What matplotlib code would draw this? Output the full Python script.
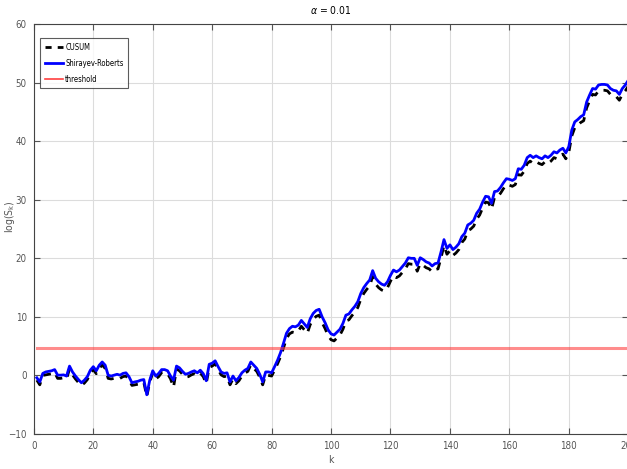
import numpy as np
import matplotlib
matplotlib.use('Agg')
import matplotlib.pyplot as plt

# log statistics, k = 1..200
sr_vals = [
    -0.4, -1.1, 0.35, 0.6, 0.7, 0.8, 1.0, 0.05, 0.05, 0.1,
    -0.1, 1.6, 0.6, -0.1, -0.7, -1.25, -0.8, -0.2, 0.9, 1.5,
    0.8, 1.75, 2.3, 1.75, 0.05, -0.1, 0.05, 0.2, 0.05, 0.35,
    0.45, -0.2, -1.25, -1.1, -1.0, -0.8, -0.7, -3.3, -0.8, 0.8,
    -0.1, 0.35, 1.0, 1.0, 0.8, -0.1, -0.8, 1.6, 1.3, 0.7,
    0.2, 0.35, 0.6, 0.8, 0.45, 0.9, 0.3, -0.9, 1.9, 2.1,
    2.5, 1.5, 0.6, 0.35, 0.45, -1.1, -0.1, -0.9, -0.35, 0.45,
    0.9, 1.2, 2.3, 1.75, 1.2, 0.2, -1.1, 0.6, 0.6, 0.45,
    1.5, 2.6, 3.9, 5.5, 7.2, 8.0, 8.4, 8.3, 8.6, 9.4,
    8.8, 8.2, 9.7, 10.6, 11.1, 11.3, 10.0, 9.0, 7.8, 7.1,
    6.9, 7.4, 7.9, 8.9, 10.3, 10.5, 11.2, 11.8, 12.6, 14.0,
    15.0, 15.7, 16.3, 17.9, 16.6, 16.0, 15.6, 15.4, 16.0, 17.1,
    18.0, 17.7, 18.0, 18.6, 19.2, 20.1, 20.0, 20.0, 18.8, 20.1,
    19.8, 19.4, 19.2, 18.7, 19.1, 19.2, 21.1, 23.2, 21.7, 22.3,
    21.5, 21.9, 22.5, 23.7, 24.3, 25.7, 26.0, 26.5, 27.7, 28.4,
    29.6, 30.6, 30.5, 29.4, 31.4, 31.5, 32.1, 32.9, 33.6, 33.5,
    33.3, 33.6, 35.3, 35.2, 35.9, 37.2, 37.6, 37.2, 37.5, 37.2,
    37.0, 37.5, 37.2, 37.6, 38.2, 38.0, 38.5, 38.8, 38.0, 39.1,
    41.9, 43.3, 43.7, 44.2, 44.5, 46.7, 47.9, 49.0, 48.9, 49.6,
    49.7, 49.7, 49.6, 49.0, 48.7, 48.6, 48.0, 49.0, 49.6, 50.4,
]

cusum_vals = [
    -0.8, -1.6, 0.0, 0.1, 0.2, 0.3, 0.5, -0.5, -0.5, -0.4,
    -0.6, 1.1, 0.1, -0.6, -1.2, -1.7, -1.3, -0.7, 0.4, 1.0,
    0.3, 1.2, 1.8, 1.2, -0.5, -0.6, -0.5, -0.3, -0.5, -0.2,
    -0.1, -0.7, -1.7, -1.6, -1.5, -1.3, -1.2, -3.6, -1.1, 0.4,
    -0.6, -0.2, 0.5, 0.5, 0.3, -0.6, -2.0, 1.1, 0.8, 0.2,
    -0.3, -0.2, 0.1, 0.3, -0.1, 0.4, -0.2, -1.4, 1.4, 1.6,
    2.0, 1.0, 0.1, -0.2, -0.1, -1.6, -0.6, -1.4, -0.9, -0.1,
    0.4, 0.7, 1.8, 1.2, 0.7, -0.3, -1.6, 0.1, 0.0, -0.1,
    0.9, 2.0, 3.2, 4.7, 6.3, 7.1, 7.4, 7.3, 7.6, 8.4,
    7.8, 7.2, 8.7, 9.6, 10.1, 10.3, 9.0, 8.0, 6.8, 6.1,
    5.9, 6.4, 6.9, 7.9, 9.3, 9.5, 10.2, 10.8, 11.6, 13.0,
    14.0, 14.7, 15.3, 16.9, 15.6, 15.0, 14.6, 14.4, 15.0, 16.1,
    17.0, 16.7, 17.0, 17.6, 18.2, 19.1, 19.0, 19.0, 17.8, 19.1,
    18.8, 18.4, 18.2, 17.7, 18.1, 18.2, 20.1, 22.2, 20.7, 21.3,
    20.5, 20.9, 21.5, 22.7, 23.3, 24.7, 25.0, 25.5, 26.7, 27.4,
    28.6, 29.6, 29.5, 28.4, 30.4, 30.5, 31.1, 31.9, 32.6, 32.5,
    32.3, 32.6, 34.3, 34.2, 34.9, 36.2, 36.6, 36.2, 36.5, 36.2,
    36.0, 36.5, 36.2, 36.6, 37.2, 37.0, 37.5, 37.8, 37.0, 38.1,
    40.9, 42.3, 42.7, 43.2, 43.5, 45.7, 46.9, 48.0, 47.9, 48.6,
    48.7, 48.7, 48.6, 48.0, 47.7, 47.6, 47.0, 48.0, 48.6, 49.4,
]

alpha = 0.01
threshold = np.log(1 / alpha)
k = np.arange(1, len(sr_vals) + 1)

plt.rcParams['font.family'] = ['Liberation Sans Narrow', 'DejaVu Sans']
plt.rcParams['font.stretch'] = 'condensed'
plt.rcParams['mathtext.fontset'] = 'custom'
plt.rcParams['mathtext.it'] = 'DejaVu Sans:italic'

fig = plt.figure(figsize=(6.27, 4.69), dpi=100)
ax = fig.add_axes([0.054, 0.0746, 0.948, 0.874])

ax.plot(k, cusum_vals, '--', color='black', lw=2.0, dashes=(3, 2.5), label='CUSUM')
ax.plot(k, sr_vals, '-', color='blue', lw=2.0, label='Shirayev-Roberts')
ax.plot(k, np.full(len(k), threshold), '-', color='#ff4040', lw=2.2, alpha=0.6,
        label='threshold')

ax.set_xlim(0, 200)
ax.set_ylim(-10, 60)
ax.set_xticks(np.arange(0, 201, 20))
ax.set_yticks(np.arange(-10, 61, 10))
ax.grid(True, color='#dcdcdc', lw=0.8)
ax.tick_params(direction='in', top=True, right=True, labelsize=7,
               labelcolor='#555555', color='#555555', length=4, pad=5)
for s in ax.spines.values():
    s.set_color('#444444')
    s.set_linewidth(0.8)

ax.set_title(r'$\alpha$ = 0.01', fontsize=7.5, pad=7)
ax.set_xlabel('k', fontsize=7.5, color='#555555', labelpad=3)
ax.set_ylabel(r'log(S$_{\rm k}$)', fontsize=7.5, color='#555555')
ax.yaxis.set_label_coords(-0.028, 0.53)

leg = ax.legend(loc='upper left', fontsize=5.5, frameon=True, fancybox=False,
                handlelength=2.4, borderpad=0.6, labelspacing=0.9,
                handletextpad=0.3, bbox_to_anchor=(0.004, 0.975))
leg.get_frame().set_edgecolor('#333333')
leg.get_frame().set_linewidth(0.8)
leg.get_lines()[0].set_dashes((2.2, 2.2))
leg.get_lines()[2].set_alpha(1.0)
leg.get_lines()[2].set_linewidth(1.2)

fig.savefig('out.png', dpi=100)
